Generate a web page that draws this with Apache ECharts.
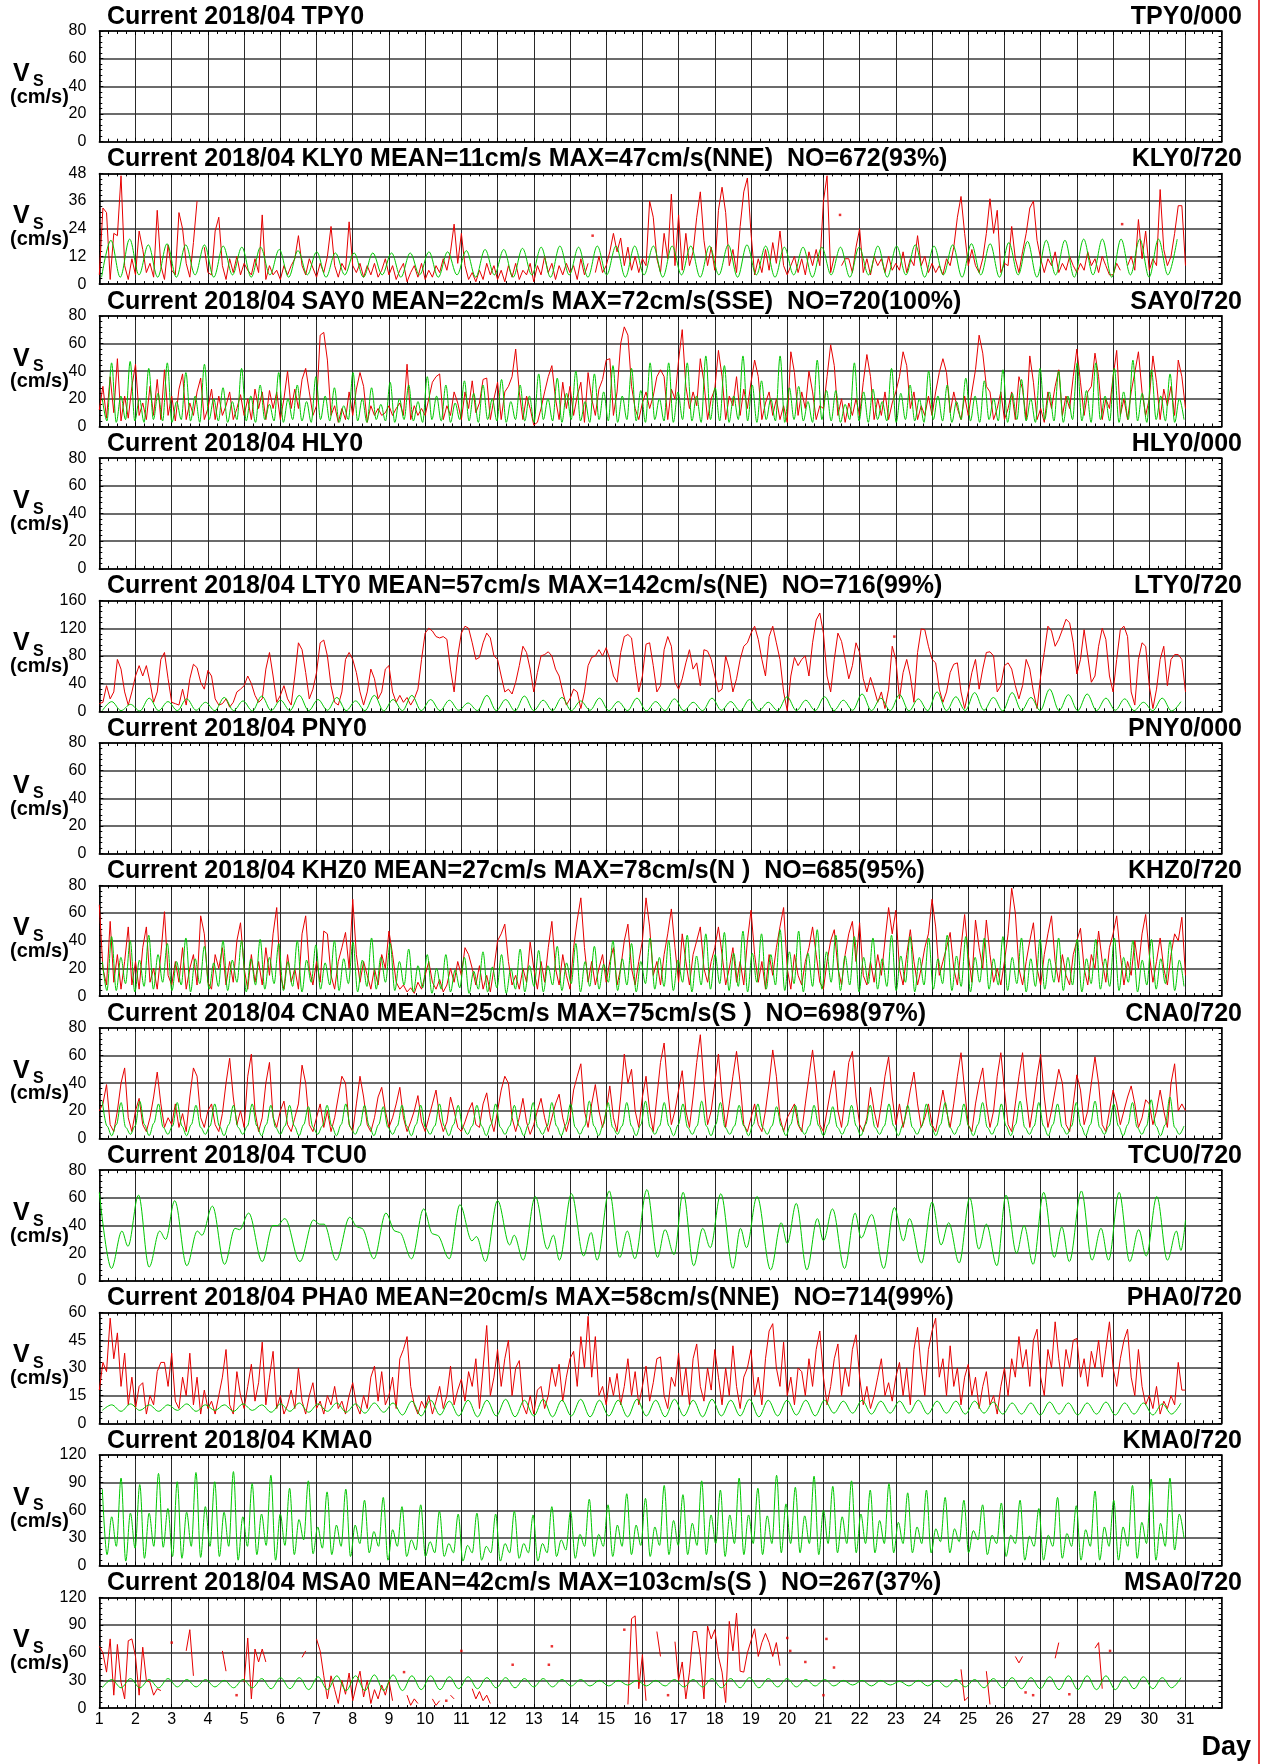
<!DOCTYPE html>
<html><head><meta charset="utf-8">
<script src="https://cdn.jsdelivr.net/npm/echarts@6/dist/echarts.min.js"></script>
<style>html,body{margin:0;padding:0;background:#fff}#c{width:1263px;height:1764px}</style>
</head><body><div id="c"></div>
<script>
const _ = null;
const stations = ['TPY0','KLY0','SAY0','HLY0','LTY0','PNY0','KHZ0','CNA0','TCU0','PHA0','KMA0','MSA0'];
const leftTitles = [
 'Current 2018/04 TPY0',
 'Current 2018/04 KLY0 MEAN=11cm/s MAX=47cm/s(NNE)  NO=672(93%)',
 'Current 2018/04 SAY0 MEAN=22cm/s MAX=72cm/s(SSE)  NO=720(100%)',
 'Current 2018/04 HLY0',
 'Current 2018/04 LTY0 MEAN=57cm/s MAX=142cm/s(NE)  NO=716(99%)',
 'Current 2018/04 PNY0',
 'Current 2018/04 KHZ0 MEAN=27cm/s MAX=78cm/s(N )  NO=685(95%)',
 'Current 2018/04 CNA0 MEAN=25cm/s MAX=75cm/s(S )  NO=698(97%)',
 'Current 2018/04 TCU0',
 'Current 2018/04 PHA0 MEAN=20cm/s MAX=58cm/s(NNE)  NO=714(99%)',
 'Current 2018/04 KMA0',
 'Current 2018/04 MSA0 MEAN=42cm/s MAX=103cm/s(S )  NO=267(37%)'];
const rightTitles = ['TPY0/000','KLY0/720','SAY0/720','HLY0/000','LTY0/720','PNY0/000','KHZ0/720','CNA0/720','TCU0/720','PHA0/720','KMA0/720','MSA0/720'];
const yMax  = [80,48,80,80,160,80,80,80,80,60,120,120];
const yStep = [20,12,20,20,40,20,20,20,20,15,30,30];
const dayMin = 1, dayMax = 32, lastDayLabel = 31;

// observed speed (red), sampled every 0.1 day from day 1 to day 31
const KLY0_obs = [4,33,31,2,22,21,47,8,2,11, 4,23,15,5,9,3,32,8,2,17, 6,4,31,24,9,3,18,36,_,16, 5,4,23,29,8,2,11,5,12,4, 9,6,4,11,5,30,2,8,4,6,
 2,8,4,8,11,21,8,4,11,7, 3,9,5,12,25,8,3,9,6,27, 8,5,9,3,8,4,9,3,6,11, 4,8,2,6,9,1,5,8,3,9, 2,6,3,8,5,11,6,14,26,9,
 22,8,2,5,1,6,2,9,4,8, 2,6,1,8,3,9,2,6,4,9, 1,8,4,12,5,9,2,8,4,9, 5,8,2,11,4,9,_,5,12,5, 8,14,22,14,20,8,16,6,12,5,
 11,8,36,29,11,5,22,11,39,8, 30,6,22,8,14,29,40,19,8,16, 6,32,42,31,8,15,5,25,40,46, 22,4,11,5,15,6,18,9,23,8, 4,8,12,5,11,4,14,8,15,8,
 36,47,5,12,_,8,11,11,5,16, 24,5,11,4,12,8,11,5,12,6, 9,6,14,5,11,8,21,8,12,5, 9,5,8,4,11,8,16,29,38,22, 8,15,8,5,11,22,37,22,32,5,
 9,8,25,11,5,14,22,33,36,19, 11,5,11,8,14,5,9,6,12,8, 5,9,6,14,8,11,5,12,8,4, 4,9,6,_,8,12,6,28,11,23, 6,11,8,41,15,8,12,22,34,34, 8];
const KLY0_dots = [[327,21],[491,30],[678,26]];

const SAY0_obs = [12,29,6,36,10,49,4,22,6,29, 45,8,17,5,29,8,34,5,41,8, 22,4,27,38,5,17,8,25,35,5, 13,27,5,22,8,15,25,5,13,23, 8,20,5,27,13,25,5,26,13,25,
 5,20,40,13,27,13,34,42,25,8, 15,66,68,48,8,15,3,13,5,25, 8,27,39,29,3,15,8,13,8,10, 15,8,13,17,8,45,5,15,8,13, 8,20,32,36,38,5,15,8,25,17,
 5,25,13,33,10,17,34,35,5,20, 32,5,25,29,36,56,25,5,22,13, 1,3,13,25,36,44,20,5,32,13, 29,8,22,32,3,39,20,8,27,34, 48,49,8,25,60,72,66,29,13,5,
 17,25,13,22,36,41,36,5,27,20, 48,70,29,13,25,15,49,32,5,20, 27,55,36,5,22,15,36,8,27,13, 32,48,36,5,17,25,8,20,5,15, 3,54,39,8,25,13,40,25,5,15,
 13,36,59,44,8,20,3,17,8,20, 8,32,52,36,5,20,8,25,5,17, 25,36,54,44,13,25,5,15,8,22, 8,25,39,49,39,10,25,13,5,22, 8,25,41,66,53,29,25,5,13,25,
 5,13,25,5,36,27,5,51,32,5, 13,3,25,13,29,41,8,22,13,36, 56,32,8,25,29,53,36,5,20,13, 36,55,8,20,5,25,39,54,25,8, 20,51,32,5,27,15,29,8,48,36, 13];

const LTY0_obs = [11,13,37,18,28,75,61,28,9,28, 51,66,51,66,42,13,28,75,85,47, 13,11,9,32,9,47,68,63,42,32, 59,51,18,9,11,18,6,13,28,32, 37,51,40,23,13,18,61,85,51,13,
 23,37,18,9,51,99,89,56,18,32, 56,99,103,80,37,13,9,28,75,85, 75,56,28,9,28,61,47,18,28,61, 66,28,13,23,13,20,9,18,32,75, 113,120,116,108,106,108,104,61,28,80,
 113,123,120,99,75,78,99,113,106,80, 75,51,28,32,25,42,66,94,85,61, 28,56,80,82,86,80,61,51,28,9, 18,32,28,4,28,66,78,80,89,80, 92,75,51,42,85,108,111,106,66,28,
 51,97,99,66,28,37,89,108,94,42, 32,47,70,89,61,70,37,89,87,75, 51,28,32,80,61,28,47,75,94,99, 113,123,104,75,51,108,123,99,75,28, 1,51,78,66,75,80,51,99,132,142,
 113,51,28,75,113,101,75,47,66,99, 85,47,28,49,32,13,28,4,32,94, 75,18,56,75,51,13,85,119,118,94, 75,70,32,13,28,56,68,70,28,4, 28,56,75,32,61,85,86,80,28,37,
 66,70,61,37,18,37,75,61,28,4, 51,85,123,116,94,104,118,133,128,99, 54,75,118,80,42,51,94,120,104,51, 28,75,118,123,108,28,9,75,99,94, 37,4,32,75,94,37,75,82,82,75, 28];
const LTY0_dots = [[527,108]];

const KHZ0_obs = [66,20,8,54,10,30,5,25,50,8, 25,5,35,50,10,20,5,30,61,15, 8,25,10,35,5,20,30,8,58,45, 10,5,30,20,35,8,25,10,40,53, 20,5,30,10,25,8,35,15,45,64,
 15,5,30,10,20,5,45,58,20,8, 25,10,47,45,15,5,25,35,46,20, 70,30,10,25,15,5,20,8,30,20, 47,30,10,5,8,3,6,2,10,5, 15,25,10,5,12,3,8,20,10,25,
 15,35,30,20,8,22,5,15,3,20, 40,45,52,25,8,15,5,20,10,39, 20,5,25,10,35,54,20,8,30,15, 5,35,55,71,35,10,25,8,20,30, 10,25,35,8,20,40,52,20,8,25,
 40,71,50,15,25,8,30,45,63,35, 10,45,25,8,30,40,50,20,10,25, 35,50,30,8,20,35,10,25,8,40, 62,30,10,25,5,30,15,35,50,64, 20,5,30,15,8,25,35,50,30,10,
 5,25,40,48,20,8,30,45,54,25, 53,15,8,25,10,30,15,40,64,45, 62,20,8,30,48,25,8,20,35,45, 70,50,15,25,35,46,20,8,35,59, 30,10,55,35,20,55,30,10,20,8,
 25,45,78,60,20,8,25,40,53,20, 8,30,45,58,25,10,30,15,8,30, 40,49,20,8,30,20,47,25,10,35, 45,58,30,8,25,15,40,20,45,59, 30,10,25,42,20,8,30,45,40,57, 15];

const CNA0_obs = [20,25,39,10,5,20,40,51,15,5, 20,29,10,5,15,30,48,25,8,15, 10,25,8,18,5,30,51,45,15,8, 20,25,10,5,18,40,58,30,10,20, 8,45,61,20,5,15,40,55,15,8,
 20,27,10,5,15,25,53,40,10,5, 15,25,8,20,5,15,30,45,40,10, 5,25,45,30,10,5,15,30,37,20, 8,15,25,37,15,5,12,20,31,12, 5,15,25,35,15,5,12,30,20,8,
 5,12,20,26,10,8,25,33,15,5, 20,35,45,40,15,5,15,29,12,3, 10,20,29,15,5,15,25,32,15,5, 15,35,45,54,20,8,25,39,20,8, 20,38,15,5,30,61,40,50,20,8,
 30,45,20,5,30,55,69,35,10,20, 35,49,20,8,30,55,75,40,10,20, 40,61,30,8,25,45,63,40,10,5, 15,25,10,5,20,40,64,45,15,5, 15,20,25,10,5,25,45,64,40,10,
 5,20,35,49,20,8,30,55,63,30, 10,5,15,37,20,8,25,45,59,30, 10,25,8,20,35,48,25,8,15,25, 10,5,20,35,20,8,25,45,62,35, 10,5,25,40,51,25,8,20,45,62,
 35,10,5,25,45,62,30,8,25,45, 61,30,8,20,35,50,40,10,5,25, 46,35,10,20,40,59,40,10,5,20, 35,25,10,20,30,38,25,8,15,28, 25,10,20,35,20,8,40,54,20,25, 20];

const PHA0_obs = [18,33,28,57,35,49,20,38,10,25, 8,20,22,5,15,10,28,33,33,20, 38,12,8,25,15,38,10,25,5,18, 8,12,5,15,25,40,10,5,28,15, 8,20,32,12,22,44,10,25,39,8,
 15,5,10,18,8,30,12,5,15,22, 8,12,5,15,10,20,8,12,5,15, 22,10,5,15,8,25,31,12,28,10, 15,25,8,35,40,47,20,10,5,12, 8,15,5,12,20,8,15,31,10,18,
 24,12,28,20,35,8,30,53,15,25, 40,20,35,45,15,30,34,10,5,15, 5,18,20,8,15,30,20,32,12,25, 35,39,20,47,30,58,25,47,15,20, 10,25,15,27,10,20,35,15,28,10,
 20,31,12,22,35,36,15,8,25,20, 38,15,30,10,35,43,20,12,30,18, 40,25,10,30,15,42,20,8,25,30, 40,15,25,10,35,50,54,30,20,44, 15,25,10,30,28,15,35,20,40,50,
 25,10,20,35,43,15,30,20,40,48, 25,10,20,8,15,25,35,15,22,12, 25,33,15,30,10,40,52,30,15,40, 50,57,25,35,15,42,20,30,10,25, 32,15,25,8,20,28,10,15,5,20,
 30,15,35,25,47,30,40,20,45,51, 25,15,40,30,55,35,20,40,30,45, 46,25,35,20,39,30,45,25,40,55, 30,20,35,45,51,25,15,40,20,10, 15,8,20,5,12,8,15,10,33,18, 18];

const MSA0_obs = [67,60,39,75,14,69,28,10,73,75, 56,14,66,30,28,14,21,19,_,_, _,_,_,_,62,85,35,_,_,_, _,_,_,_,62,40,_,_,_,_, 28,76,10,64,50,64,50,_,_,_,
 _,_,_,_,_,_,55,62,_,_, 75,62,35,10,35,20,5,30,15,38, 8,25,40,12,30,5,20,10,25,14, 30,8,_,_,_,14,3,10,5,_, _,_,10,3,8,_,_,14,10,_,
 _,_,_,21,10,18,8,14,5,_, _,_,_,_,_,_,_,_,_,_, _,_,_,_,_,_,_,_,_,_, _,_,_,_,_,_,_,_,_,_, _,_,_,_,_,_,4,97,100,21,
 58,8,_,_,83,56,_,_,_,72, 30,50,10,39,83,83,56,10,89,75, 85,56,39,6,94,62,103,40,39,60, 73,86,56,71,81,71,56,71,46,_, _,_,_,_,_,_,_,_,_,_,
 _,_,_,_,_,_,_,_,_,_, _,_,_,_,_,_,_,_,_,_, _,_,_,_,_,_,_,_,_,_, _,_,_,_,_,_,_,_,42,8, 12,_,_,_,_,40,4,_,_,_,
 _,_,_,56,49,56,_,_,_,_, _,_,_,_,54,71,_,_,_,_, _,_,_,_,_,65,71,21,_,_, _,_,_,_,_,_,_,_,_,_, _,_,_,_,_,_,_,_,_,_, _];
const MSA0_dots = [[48,71],[91,14],[202,39],[230,8],[240,62],[274,47],[298,47],[300,67],[348,85],[377,14],[456,76],[458,62],[468,50],[480,14],[482,75],[487,44],[614,17],[619,14],[643,15],[670,62]];

// predicted tidal speed (green): successive turning values, evenly spaced in time
const KLY0_tide = [3,19,3,19.5,4,17,3,17.5,3,17,4,17,3,16.5,4,16,3,16,4,15,3,14.5,4,14,3,13.5,4,13.5,3,13.5,4,13.5,3,13.5,4,14,3,14,4,14.5,3,15,4,15,3,15.5,4,16,3,16.5,4,16,3,16.5,4,16.5,3,16.5,4,16.5,3,16.5,4,16.5,3,16.5,4,17,3,17,4,16.5,3,16,4,16,3,16,4,16,3,16,4,16.5,3,16.5,4,17,3,16.5,4,17,3,17.5,4,17.5,3,18,4,18.5,3,19,4,19,3,19.5,4,19.5,3,19.5,4,19.5,3,19.5,4,19.5];
const SAY0_tide = [20,4, 46,3,22,5, 47,4,20,3, 42,5,24,4, 46,3,18,5, 39,4,22,3, 45,5,20,4, 28,3,18,5, 42,4,22,3, 30,5,16,4, 39,3,20,5, 30,4,18,3, 36,5,22,4, 28,3,15,5, 39,4,20,3, 28,5,16,4, 32,3,20,5, 30,4,18,3, 36,5,22,4, 30,3,17,5, 33,4,24,3, 30,5,20,4, 34,3,18,5, 30,4,22,3, 38,5,20,4, 35,3,24,5, 40,4,18,3, 38,5,25,4, 44,3,22,5, 42,4,26,3, 46,5,20,4, 46,3,25,5, 46,4,22,3, 51,5,28,4, 44,3,22,5, 51,4,30,3, 33,5,20,4, 51,3,28,5, 29,4,18,3, 48,5,26,4, 26,3,16,5, 46,4,25,3, 27,5,18,4, 42,3,24,5, 30,4,20,3, 40,5,22,4, 30,3,18,5, 35,4,22,3, 33,5,20,4, 41,3,24,5, 34,4,20,3, 42,5,25,4, 40,3,22,5, 46,4,26,3, 46,5,22,4, 42,3,25,5, 48,4,24,3, 41,5,22,4, 38,3,20,5];
const LTY0_tide = [1,14,1,10, 0.5,19,1,14, 1,18,1.5,13, 1,20,1,15, 0.5,22,1,16, 1,23,1,17, 1.5,20,1,15, 1,23,0.5,17, 1,23,1,17, 1,16,1.5,12, 1,23,1,17, 0.5,22,1,16, 1,20,1,15, 1.5,19,1,14, 1,19,0.5,14, 1,18,1,13, 1,19,1.5,14, 0.5,17,1,13, 1,21,1,16, 1,21,1,16, 1.5,25,1,19, 1,24,0.5,18, 1,28,1,21, 1,27,1.5,20, 0.5,27,1,20, 1,32,1,24, 1,25,1,19, 1.5,18,1,13, 1,19,0.5,14];
const KHZ0_tide = [25,4, 43,4,28,9, 40,3,26,7, 44,5,30,10, 38,4,25,8, 42,3,27,9, 36,5,24,7, 40,4,26,10, 40,3,27,8, 41,5,28,9, 38,4,25,7, 40,3,26,10, 37,5,24,8, 40,4,27,9, 39,3,26,7, 42,5,28,10, 38,4,25,8, 34,3,22,6, 30,2,20,5, 30,3,19,6, 28,2,18,5, 32,3,21,6, 30,2,20,5, 34,3,22,7, 33,3,22,8, 36,4,24,9, 38,3,25,7, 36,5,23,10, 40,4,27,8, 38,3,25,9, 42,5,28,7, 40,4,26,10, 44,3,29,8, 45,5,30,9, 46,4,31,7, 47,3,31,10, 45,5,30,8, 48,4,32,9, 47,3,31,7, 48,5,32,10, 44,4,29,8, 43,3,28,9, 42,5,27,7, 44,4,29,10, 43,3,28,8, 42,5,27,9, 44,4,29,7, 43,3,28,10, 42,5,27,8, 43,4,28,9, 42,3,27,7, 41,5,27,10, 42,4,28,8, 41,3,27,9, 41,5,27,7, 42,4,28,10, 40,3,26,8, 41,5,27,9, 40,4,26,7];
const CNA0_tide = [27,9,2,10, 26,8,3,9, 27,10,2,11, 25,8,3,9, 26,9,2,10, 24,8,3,9, 25,9,2,10, 24,8,3,9, 25,9,2,10, 24,8,3,9, 24,9,2,10, 23,8,3,9, 24,9,2,10, 25,8,3,9, 24,9,2,10, 23,8,3,9, 24,9,2,10, 24,8,3,9, 25,9,2,10, 24,8,3,9, 24,9,2,10, 25,8,3,9, 24,9,2,10, 26,8,3,9, 26,9,2,10, 25,8,3,9, 27,9,2,10, 26,8,3,9, 26,9,2,10, 27,8,3,9, 26,9,2,10, 25,8,3,9, 27,9,2,10, 26,8,3,9, 24,9,2,10, 25,8,3,9, 23,9,2,10, 24,8,3,9, 24,9,2,10, 23,8,3,9, 24,9,2,10, 24,8,3,9, 25,9,2,10, 24,8,3,9, 25,9,2,10, 26,8,3,9, 25,9,2,10, 26,8,3,9, 25,9,2,10, 27,8,3,9, 26,9,2,10, 25,8,3,9, 26,9,2,10, 27,8,3,9, 25,9,2,10, 26,8,3,9, 28,9,2,10, 30,8,3,9];
const TCU0_tide = [[0,64],[8,9],[15,36],[19,25],[26,62],[33,10],[40,36],[44,30],[50,58],[58,11],[65,36],[68,33],[75,54],[83,12],[90,38],[93,37],[99,49],[108,14],[115,40],[118,40],[123,45],[133,14],[142,44],[146,41],[149,41],[157,15],[166,46],[171,39],[174,38],[182,16],[190,49],[196,36],[199,35],[207,16],[215,52],[221,34],[224,33],[232,16],[239,55],[247,29],[250,32],[256,14],[264,58],[272,26],[275,33],[281,15],[289,61],[297,23],[301,33],[305,15],[313,63],[321,18],[326,35],[330,15],[338,65],[345,17],[350,36],[355,16],[363,66],[370,17],[375,37],[381,19],[387,64],[394,11],[400,38],[405,24],[412,63],[420,9],[425,38],[429,24],[436,61],[445,8],[452,42],[456,27],[462,56],[469,8],[476,45],[480,29],[486,52],[494,9],[501,49],[505,31],[512,48],[520,9],[527,53],[533,29],[537,45],[545,13],[552,57],[558,26],[563,42],[570,13],[577,60],[583,23],[588,41],[595,11],[601,62],[608,20],[613,40],[619,12],[626,64],[633,17],[638,39],[643,14],[651,65],[658,15],[664,38],[669,15],[676,64],[683,14],[689,37],[694,18],[701,61],[708,15],[714,36],[717,22],[720,44]];
const PHA0_tide = [7,10,6.5,10.5,7,10,6.5,10,7,10.5,6.5,10,7,10,6.5,10.5,7,10,6,10.5,6.5,11,6,10.5,6.5,11,6,10.5,5.5,11,6,11,
 4.5,12,4,12.5,4.5,12,4,12.5,3.5,12.5,4,13,3.5,12.5,4,13,3.5,12.5,4,13,3.5,12.5,4,12.5,3.5,13,4,12.5,3.5,13,4,12.5,3.5,13,4,12.5,4,13,3.5,12.5,4,12.5,4.5,12.5,4,12.5,
 5.5,12,5.5,12.5,5,12,5.5,12,5.5,12.5,5,12,5.5,12,5,12,5.5,11.5,5,
 11,5,11,4.5,11.5,5,11,4.5,11,5,11.5,4.5,11,5,11,4.5,10.5,5,11];
const KMA0_tide = [83,12,53,21,95,5,57,19,88,8, 57,21,100,20,62,10,91,8,58,21, 101,9,64,21,91,10,58,21,102,6, 53,21,89,12,56,22,98,6,56,22, 84,12,50,28,92,13,42,19,80,12,
 44,21,83,10,44,24,71,14,37,21, 74,6,39,21,64,10,28,17,66,10, 26,14,59,10,24,14,56,5,22,14, 57,6,21,14,56,5,24,14,59,8, 24,14,55,5,24,14,64,10,28,17,
 59,8,34,21,72,10,34,21,66,10, 44,21,78,12,44,22,73,10,42,22, 87,12,49,22,77,12,46,22,92,12, 55,24,82,10,55,24,95,12,55,24, 84,12,54,24,98,14,67,24,85,14,
 54,24,97,12,60,24,86,14,53,24, 92,14,56,24,82,14,49,24,89,14, 47,24,79,14,42,24,82,14,40,26, 74,14,40,26,71,14,38,28,66,12, 33,24,68,10,33,24,71,6,32,21,
 62,6,33,21,74,8,35,21,65,6, 39,21,81,6,42,21,71,6,42,21, 87,8,47,24,94,6,46,21,95,17, 56,30];
const MSA0_tide = [22,31,22,32,22,31,22,32,23,31,23,31,23,30,22,31,22,32,21,33,
 21,33,20,34,20,35,19,35,19,36,19,36,19,35,20,35,20,34,21,34,21,33,22,33,22,32,
 23,32,23,31,24,31,24,30,24,30,25,30,24,30,24,31,23,31,23,32,22,32,22,33,22,32,23,32,23,31,24,31,
 24,30,25,30,24,30,25,29,24,30,24,30,23,31,23,31,22,32,
 22,33,21,33,21,34,20,35,20,35,20,35,20,34,21,34,21,33,22,33];

// ---- build ----
const obs = vals => vals.map((v, i) => [dayMin + i * 0.1, v]);
const tide = (vals, h0, h1) => vals.map((v, i) => [dayMin + (h0 + (h1 - h0) * i / (vals.length - 1)) / 24, v]);
const hrs = list => list.map(d => [dayMin + d[0] / 24, d[1]]);

const panelData = {
  KLY0: {o: obs(KLY0_obs), t: tide(KLY0_tide, 1.5, 714.5), d: hrs(KLY0_dots)},
  SAY0: {o: obs(SAY0_obs), t: tide(SAY0_tide, 2, 719)},
  LTY0: {o: obs(LTY0_obs), t: tide(LTY0_tide, 2, 717), d: hrs(LTY0_dots)},
  KHZ0: {o: obs(KHZ0_obs), t: tide(KHZ0_tide, 2, 719)},
  CNA0: {o: obs(CNA0_obs), t: tide(CNA0_tide, 2, 719)},
  TCU0: {t: hrs(TCU0_tide)},
  PHA0: {o: obs(PHA0_obs), t: tide(PHA0_tide, 2, 717)},
  KMA0: {t: tide(KMA0_tide, 2, 719)},
  MSA0: {o: obs(MSA0_obs), t: tide(MSA0_tide, 2, 717), d: hrs(MSA0_dots)}
};

const FONT = '"Liberation Sans", Arial, Helvetica, sans-serif';
const RED = '#e60000', GREEN = '#00c800';
const L = 99.3, PW = 1122.4, T0 = 31, PH = 110.7, GAP = 142.4;
const grids = [], xAxes = [], yAxes = [], series = [], graphics = [];
const blackLine = {show: true, onZero: false, lineStyle: {color: '#000', width: 1.5}};
const tick = {show: true, inside: true, length: 4, lineStyle: {color: '#000', width: 1}};

stations.forEach((st, i) => {
  const top = T0 + GAP * i;
  const last = i === stations.length - 1;
  grids.push({left: L, top: top, width: PW, height: PH, containLabel: false, outerBoundsMode: 'none'});
  xAxes.push({gridIndex: i, type: 'value', min: dayMin, max: dayMax, interval: 1, position: 'bottom',
    axisLine: blackLine, axisTick: tick,
    minorTick: {show: true, splitNumber: 4, length: 3, lineStyle: {color: '#000', width: 1}},
    splitLine: {show: true, lineStyle: {color: '#2a2a2a', width: 1}},
    axisLabel: {show: last, fontSize: 16, color: '#000', margin: 3, fontFamily: FONT,
      formatter: v => (v <= lastDayLabel ? String(v) : '')}
  });
  xAxes.push({gridIndex: i, type: 'value', min: dayMin, max: dayMax, interval: 1, position: 'top',
    axisLine: blackLine, axisTick: tick,
    minorTick: {show: true, splitNumber: 4, length: 3, lineStyle: {color: '#000', width: 1}},
    splitLine: {show: false}, axisLabel: {show: false}
  });
  yAxes.push({gridIndex: i, type: 'value', min: 0, max: yMax[i], interval: yStep[i], position: 'left',
    axisLine: blackLine, axisTick: tick,
    minorTick: {show: true, splitNumber: 5, length: 3, lineStyle: {color: '#000', width: 1}},
    splitLine: {show: true, lineStyle: {color: '#3a3a3a', width: 1.6}},
    axisLabel: {fontSize: 16, color: '#000', margin: 13, fontFamily: FONT}
  });
  yAxes.push({gridIndex: i, type: 'value', min: 0, max: yMax[i], interval: yStep[i], position: 'right',
    axisLine: blackLine, axisTick: tick,
    minorTick: {show: true, splitNumber: 5, length: 3, lineStyle: {color: '#000', width: 1}},
    splitLine: {show: false}, axisLabel: {show: false}
  });
  const pd = panelData[st];
  if (pd && pd.o) series.push({type: 'line', xAxisIndex: 2 * i, yAxisIndex: 2 * i, data: pd.o,
    showSymbol: false, connectNulls: false, lineStyle: {color: RED, width: 1}, itemStyle: {color: RED}, z: 3, silent: true});
  if (pd && pd.d) series.push({type: 'scatter', xAxisIndex: 2 * i, yAxisIndex: 2 * i, data: pd.d,
    symbol: 'rect', symbolSize: 2.5, itemStyle: {color: RED}, z: 3, silent: true});
  if (pd && pd.t) series.push({type: 'line', xAxisIndex: 2 * i, yAxisIndex: 2 * i, data: pd.t,
    showSymbol: false, smooth: 0.35, smoothMonotone: 'x', lineStyle: {color: GREEN, width: 1}, itemStyle: {color: GREEN}, z: 4, silent: true});

  graphics.push({type: 'text', x: 107, y: top - 14, style: {text: leftTitles[i], font: 'bold 25px ' + FONT, fill: '#000', textAlign: 'left', textVerticalAlign: 'middle'}});
  graphics.push({type: 'text', x: 1242, y: top - 14, style: {text: rightTitles[i], font: 'bold 25px ' + FONT, fill: '#000', textAlign: 'right', textVerticalAlign: 'middle'}});
  graphics.push({type: 'text', x: 13, y: top + 43, style: {text: 'V', font: 'bold 25px ' + FONT, fill: '#000', textAlign: 'left', textVerticalAlign: 'middle'}});
  graphics.push({type: 'text', x: 33, y: top + 51, style: {text: 'S', font: 'bold 16px ' + FONT, fill: '#000', textAlign: 'left', textVerticalAlign: 'middle'}});
  graphics.push({type: 'text', x: 10, y: top + 66, style: {text: '(cm/s)', font: 'bold 20px ' + FONT, fill: '#000', textAlign: 'left', textVerticalAlign: 'middle'}});
});
graphics.push({type: 'text', x: 1251, y: 1748, style: {text: 'Day', font: 'bold 27px ' + FONT, fill: '#000', textAlign: 'right', textVerticalAlign: 'middle'}});
graphics.push({type: 'line', shape: {x1: 1259, y1: 0, x2: 1259, y2: 1764}, style: {stroke: '#e00000', lineWidth: 1.5}});

const chart = echarts.init(document.getElementById('c'), null, {renderer: 'canvas', width: 1263, height: 1764});
chart.setOption({
  animation: false, backgroundColor: '#fff',
  grid: grids, xAxis: xAxes, yAxis: yAxes, series: series, graphic: graphics
});
</script></body></html>
